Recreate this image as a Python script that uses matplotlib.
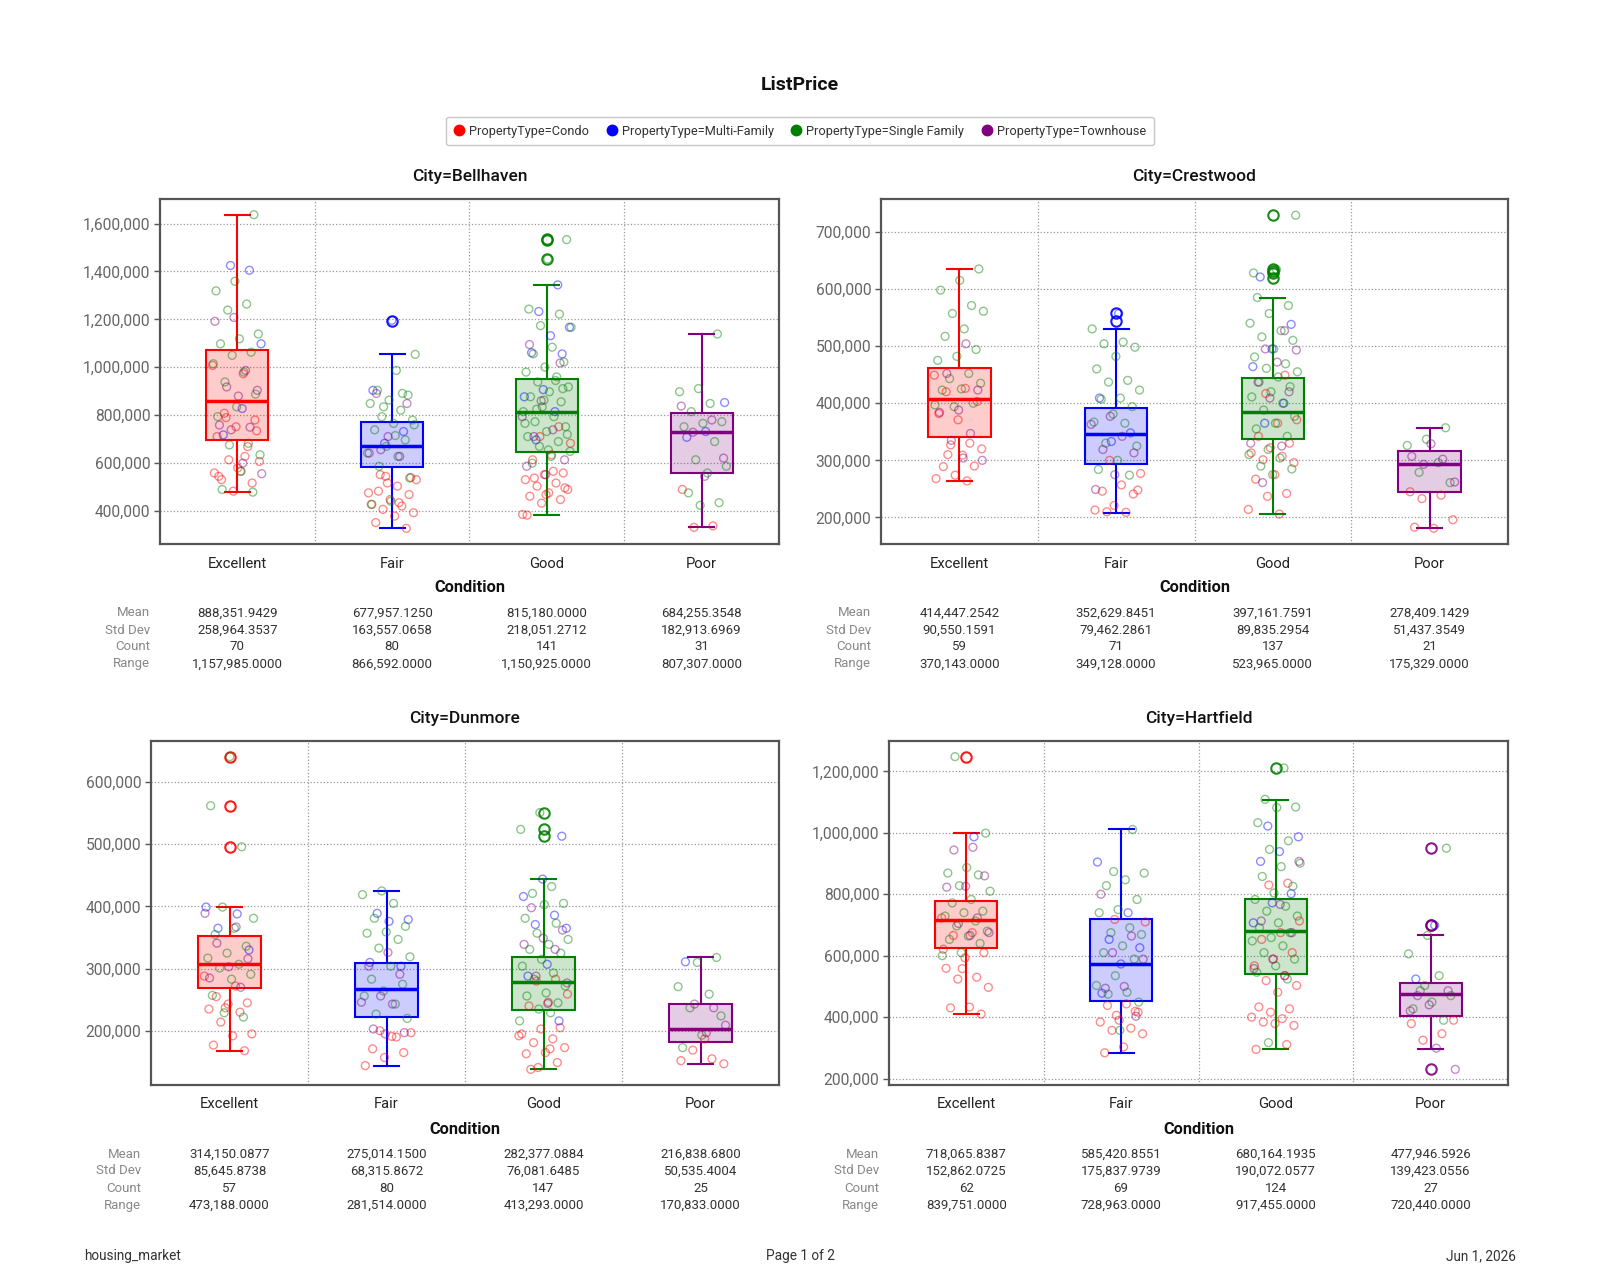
import matplotlib
matplotlib.use("Agg")
import matplotlib.pyplot as plt
from matplotlib.lines import Line2D
from matplotlib.colors import to_rgba
from matplotlib.ticker import MultipleLocator, FuncFormatter
from matplotlib.transforms import blended_transform_factory

plt.rcParams['font.family'] = ['Roboto', 'DejaVu Sans']

conditions = ['Excellent', 'Fair', 'Good', 'Poor']
types = ['Condo', 'Multi-Family', 'Single Family', 'Townhouse']
type_colors = ['red', 'blue', 'green', 'purple']
box_colors = ['red', 'blue', 'green', 'purple']

# ---- list prices (thousands), per condition: [condo, multi, single, town]
bel_excellent = [
    [1008, 973, 808, 780, 752, 711, 669, 614, 607, 566, 531, 517, 483, 559, 628, 790, 735, 580, 545],
    [1405, 1425, 1098, 828, 718],
    [1637, 1359, 1319, 1264, 1239, 1139, 1119, 1098, 1063, 1050, 1015, 980, 939, 888, 835, 794, 683,
     676, 635, 566, 490, 479],
    [1208, 1192, 987, 918, 904, 880, 759, 750, 739, 556, 600],
]
bel_fair = [
    [545, 531, 504, 483, 469, 448, 428, 421, 407, 393, 379, 352, 328, 517, 476, 435, 552, 540],
    [1196, 904, 732, 683],
    [1054, 987, 904, 884, 863, 849, 821, 794, 780, 766, 739, 697, 670, 642, 628, 587, 538, 441, 428,
     891, 835, 760, 715],
    [891, 849, 711, 642, 628, 656],
]
bel_good = [
    [752, 711, 683, 635, 614, 559, 552, 531, 517, 504, 490, 476, 462, 448, 433, 386, 566, 538, 497,
     469, 383],
    [1344, 1233, 1167, 1132, 1061, 1056, 907, 877, 815, 697],
    [1533, 1452, 1243, 1222, 1174, 1167, 1084, 1056, 1022, 1001, 980, 960, 939, 918, 898, 877, 856,
     835, 815, 794, 773, 752, 732, 711, 690, 670, 649, 628, 600, 911, 863, 766, 945, 825, 720, 655],
    [1095, 1018, 860, 794, 739, 711, 614, 552, 587],
]
bel_poor = [
    [490, 338, 332],
    [853, 732, 708],
    [1139, 911, 898, 849, 815, 773, 766, 752, 690, 614, 587, 559, 476, 435, 424],
    [838, 780, 729, 621, 545],
]

cre_excellent = [
    [449, 426, 420, 403, 371, 382, 330, 327, 320, 309, 289, 290, 274, 268, 264, 310],
    [],
    [635, 615, 598, 571, 557, 561, 530, 517, 494, 482, 475, 452, 443, 435, 425, 423, 400, 394, 397],
    [504, 452, 423, 388, 384, 347, 335, 300, 304],
]
cre_fair = [
    [300, 277, 257, 246, 241, 221, 213, 209, 210, 248],
    [557, 409, 348, 333],
    [530, 507, 504, 498, 482, 460, 440, 437, 423, 409, 407, 394, 381, 367, 365, 330, 325, 300, 284, 274],
    [377, 363, 342, 319, 313, 275, 249],
]
cre_good = [
    [449, 417, 371, 365, 342, 330, 322, 313, 307, 301, 296, 275, 267, 242, 237, 214, 206],
    [621, 538, 495, 464, 400, 365],
    [729, 634, 585, 571, 557, 540, 527, 516, 510, 495, 481, 469, 461, 455, 446, 437, 429, 420, 411,
     400, 388, 377, 365, 355, 342, 319, 310, 304, 290, 285, 275, 628],
    [527, 495, 493, 472, 437, 420, 409, 330, 325, 261],
]
cre_poor = [
    [245, 239, 233, 196, 181, 183],
    [],
    [357, 337, 326, 296, 279, 261],
    [329, 307, 302, 293, 262],
]

dun_excellent = [
    [288, 272, 255, 245, 243, 235, 230, 214, 195, 192, 177, 168, 237],
    [399, 388, 365, 330],
    [641, 562, 496, 399, 381, 365, 355, 336, 325, 317, 307, 301, 291, 283, 257, 222, 229],
    [389, 367, 341, 316, 303, 285, 270],
]
dun_fair = [
    [200, 197, 191, 171, 165, 157, 144, 190],
    [389, 379, 376, 310, 304],
    [425, 419, 405, 381, 368, 359, 357, 347, 333, 319, 304, 283, 275, 264, 256, 243, 227, 220],
    [326, 304, 291, 256, 246, 243, 203, 197, 195],
]
dun_good = [
    [283, 280, 259, 246, 240, 205, 203, 195, 187, 181, 173, 165, 163, 149, 141, 192, 171, 138],
    [513, 444, 416, 386, 371, 365, 307, 288, 216],
    [551, 524, 432, 421, 405, 403, 381, 373, 357, 347, 339, 331, 325, 315, 304, 293, 283, 272, 261,
     256, 245, 235, 216, 229],
    [398, 362, 349, 339, 331, 288, 277, 244],
]
dun_poor = [
    [152, 155, 169, 147, 187],
    [311],
    [318, 310, 271, 259, 237, 224, 193, 173],
    [237, 243, 209, 197],
]

har_excellent = [
    [723, 675, 666, 610, 593, 559, 530, 524, 497, 433, 430, 410, 558, 621],
    [987],
    [1248, 999, 887, 869, 863, 828, 810, 783, 772, 745, 740, 729, 713, 697, 680, 664, 653, 640, 610, 600],
    [953, 944, 860, 826, 823, 723, 705, 675, 666],
]
har_fair = [
    [718, 710, 443, 438, 416, 390, 384, 364, 357, 346, 303, 284, 419, 406],
    [905, 740, 653, 626, 573, 478],
    [1011, 874, 869, 847, 828, 783, 750, 740, 691, 675, 669, 632, 610, 589, 535, 503, 481, 475, 449, 357],
    [800, 664, 610, 589, 500, 494, 403],
]
har_good = [
    [836, 830, 713, 675, 653, 610, 589, 567, 535, 519, 503, 481, 433, 427, 416, 400, 395, 384, 373,
     379, 295, 311],
    [1022, 987, 939, 907, 802, 772, 707],
    [1211, 1109, 1084, 1082, 1033, 974, 946, 901, 890, 858, 826, 804, 783, 761, 745, 729, 707, 691,
     675, 659, 648, 632, 610, 589, 567, 546, 524, 317],
    [907, 767, 713, 675, 589, 558, 535],
]
har_poor = [
    [379, 346, 325, 390],
    [699, 524],
    [950, 666, 606, 535, 486, 470, 449, 427, 390, 503],
    [230, 299, 470, 486, 440, 420],
]

# ---- box summaries (thousands), per condition
bel_lo = [479, 328, 383, 332]
bel_q1 = [697, 584, 647, 559]
bel_med = [860, 670, 812, 729]
bel_q3 = [1074, 770, 953, 810]
bel_hi = [1637, 1054, 1344, 1139]
bel_fliers = [[], [1195], [1452, 1530, 1536], []]

cre_lo = [264, 208, 206, 181]
cre_q1 = [341, 293, 337, 245]
cre_med = [407, 346, 385, 293]
cre_q3 = [461, 391, 444, 317]
cre_hi = [635, 530, 585, 357]
cre_fliers = [[], [544, 558], [620, 628, 632, 635, 730], []]

dun_lo = [168, 144, 138, 147]
dun_q1 = [269, 223, 234, 182]
dun_med = [307, 268, 279, 203]
dun_q3 = [353, 309, 318, 243]
dun_hi = [399, 425, 444, 318]
dun_fliers = [[495, 562, 641], [], [513, 524, 551], []]

har_lo = [410, 284, 295, 296]
har_q1 = [625, 452, 540, 404]
har_med = [715, 574, 680, 474]
har_q3 = [777, 718, 786, 510]
har_hi = [999, 1011, 1108, 666]
har_fliers = [[1248], [], [1211], [230, 699, 701, 950]]

# ---- summary table values
bel_mean = [888351.9429, 677957.1250, 815180.0000, 684255.3548]
bel_std = [258964.3537, 163557.0658, 218051.2712, 182913.6969]
bel_count = [70, 80, 141, 31]
bel_range = [1157985.0, 866592.0, 1150925.0, 807307.0]

cre_mean = [414447.2542, 352629.8451, 397161.7591, 278409.1429]
cre_std = [90550.1591, 79462.2861, 89835.2954, 51437.3549]
cre_count = [59, 71, 137, 21]
cre_range = [370143.0, 349128.0, 523965.0, 175329.0]

dun_mean = [314150.0877, 275014.1500, 282377.0884, 216838.6800]
dun_std = [85645.8738, 68315.8672, 76081.6485, 50535.4004]
dun_count = [57, 80, 147, 25]
dun_range = [473188.0, 281514.0, 413293.0, 170833.0]

har_mean = [718065.8387, 585420.8551, 680164.1935, 477946.5926]
har_std = [152862.0725, 175837.9739, 190072.0577, 139423.0556]
har_count = [62, 69, 124, 27]
har_range = [839751.0, 728963.0, 917455.0, 720440.0]

W, H = 1600, 1280
fig = plt.figure(figsize=(W / 100, H / 100), dpi=100)


def fx(px):
    return px / W


def fy(py):
    return 1 - py / H


def draw_panel(box_px, city, points, lo, q1, med, q3, hi, fliers, mean, std, count, rng, ystep):
    l, t, r, b = box_px
    ax = fig.add_axes([fx(l), fy(b), fx(r) - fx(l), fy(t) - fy(b)])
    for i, c in enumerate(box_colors):
        st = dict(whislo=lo[i] * 1e3, q1=q1[i] * 1e3, med=med[i] * 1e3, q3=q3[i] * 1e3,
                  whishi=hi[i] * 1e3, fliers=[f * 1e3 for f in fliers[i]])
        ax.bxp([st], positions=[i], widths=0.4, capwidths=0.16, patch_artist=True,
               boxprops=dict(facecolor=to_rgba(c, 0.2), edgecolor=c, linewidth=1.5),
               medianprops=dict(color=c, linewidth=2.5, zorder=5),
               whiskerprops=dict(color=c, linewidth=1.5),
               capprops=dict(color=c, linewidth=1.5),
               flierprops=dict(marker='o', markerfacecolor='none', markeredgecolor=c,
                               markersize=7.5, markeredgewidth=1.5, alpha=0.9),
               zorder=2)
        # jittered points
        k = 0
        for tp, vals in enumerate(points[i]):
            xs, ys = [], []
            for v in vals:
                off = ((k * 0.6180339887 + 0.37 * i) % 1.0 - 0.5) * 0.32
                xs.append(i + off)
                ys.append(v * 1e3)
                k += 1
            ax.scatter(xs, ys, s=32, facecolors='none', edgecolors=type_colors[tp],
                       linewidths=1.0, alpha=0.45, zorder=3)

    allv = lo + hi + [f for fl in fliers for f in fl]
    vmin, vmax = min(allv) * 1e3, max(allv) * 1e3
    pad = 0.05 * (vmax - vmin)
    ax.set_ylim(vmin - pad, vmax + pad)
    ax.set_xlim(-0.5, 3.5)
    ax.yaxis.set_major_locator(MultipleLocator(ystep * 1e3))
    ax.yaxis.set_major_formatter(FuncFormatter(lambda v, _: f"{v:,.0f}"))
    ax.set_xticks(range(4))
    ax.set_xticklabels(conditions, fontsize=10.6, color='#222222')
    ax.set_xticks([0.5, 1.5, 2.5], minor=True)
    ax.tick_params(axis='x', which='both', length=0, pad=9)
    ax.tick_params(axis='y', length=4, width=1, color='#555555', labelsize=11.2,
                   labelcolor='#666666', pad=3)
    ax.grid(axis='y', which='major', linestyle=':', color='#999999', linewidth=0.9)
    ax.grid(axis='x', which='minor', linestyle=':', color='#999999', linewidth=0.9)
    ax.set_axisbelow(True)
    for sp in ax.spines.values():
        sp.set_color('#555555')
        sp.set_linewidth(1.6)

    cx = fx((l + r) / 2)
    fig.text(cx, fy(t - 22), f'City={city}', ha='center', va='center', fontsize=12.5,
             fontweight='medium', color='#111111')
    fig.text(cx, fy(b + 44), 'Condition', ha='center', va='center', fontsize=11.8,
             fontweight='bold', color='#111111')

    tr = blended_transform_factory(ax.transData, fig.transFigure)
    rows = [('Mean', [f"{v:,.4f}" for v in mean]),
            ('Std Dev', [f"{v:,.4f}" for v in std]),
            ('Count', [f"{v:d}" for v in count]),
            ('Range', [f"{v:,.4f}" for v in rng])]
    for j, (name, vals) in enumerate(rows):
        yy = fy(b + 69 + j * 17)
        fig.text(fx(l - 10), yy, name, ha='right', va='center', fontsize=9.5, color='#888888')
        for i, s in enumerate(vals):
            ax.text(i, yy, s, transform=tr, ha='center', va='center', fontsize=9.5,
                    color='#333333')
    return ax


draw_panel((160, 199, 779, 544), 'Bellhaven', [bel_excellent, bel_fair, bel_good, bel_poor],
           bel_lo, bel_q1, bel_med, bel_q3, bel_hi, bel_fliers,
           bel_mean, bel_std, bel_count, bel_range, 200)
draw_panel((881, 199, 1508, 544), 'Crestwood', [cre_excellent, cre_fair, cre_good, cre_poor],
           cre_lo, cre_q1, cre_med, cre_q3, cre_hi, cre_fliers,
           cre_mean, cre_std, cre_count, cre_range, 100)
draw_panel((151, 741, 779, 1085), 'Dunmore', [dun_excellent, dun_fair, dun_good, dun_poor],
           dun_lo, dun_q1, dun_med, dun_q3, dun_hi, dun_fliers,
           dun_mean, dun_std, dun_count, dun_range, 100)
draw_panel((889, 741, 1508, 1085), 'Hartfield', [har_excellent, har_fair, har_good, har_poor],
           har_lo, har_q1, har_med, har_q3, har_hi, har_fliers,
           har_mean, har_std, har_count, har_range, 200)

# title and legend
fig.text(0.5, fy(85), 'ListPrice', ha='center', va='center', fontsize=14, fontweight='bold',
         color='#111111')
handles = [Line2D([], [], marker='o', linestyle='none', markerfacecolor=c, markeredgecolor=c,
                  markersize=7.5) for c in type_colors]
labels = [f'PropertyType={t}' for t in types]
leg = fig.legend(handles, labels, loc='center', bbox_to_anchor=(0.5, fy(131)), ncol=4,
                 fontsize=9.2, frameon=True, fancybox=True, edgecolor='#bbbbbb',
                 handlelength=0.8, handletextpad=0.4, columnspacing=1.35, borderpad=0.6)
leg.get_frame().set_linewidth(1.0)
for txt in leg.get_texts():
    txt.set_color('#333333')

# footer
fig.text(fx(84), fy(1256), 'housing_market', ha='left', va='center', fontsize=9.8, color='#333333')
fig.text(0.5, fy(1256), 'Page 1 of 2', ha='center', va='center', fontsize=9.8, color='#333333')
fig.text(fx(1516), fy(1256), 'Jun 1, 2026', ha='right', va='center', fontsize=9.8, color='#333333')

fig.savefig('out.png', dpi=100, facecolor='white')
